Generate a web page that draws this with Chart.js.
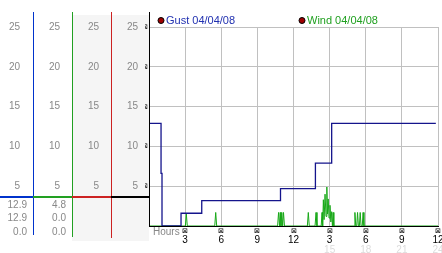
<!DOCTYPE html>
<html>
<head>
<meta charset="utf-8">
<script src="https://cdn.jsdelivr.net/npm/chart.js@4/dist/chart.umd.min.js"></script>
<style>
    body { margin: 0; background: #ffffff; }
    #wrap { width: 442px; height: 253px; }
</style>
</head>
<body>
<div id="wrap"><canvas id="idChartWind" width="442" height="253"></canvas></div>
<script>
// gust, stepped line (hours since start of the period, mph)
const gustHours = [0.05, 1.0, 1.08, 2.66, 4.38, 10.92, 13.82, 15.17, 23.82];
const gustValues = [12.9, 6.6, 0.0, 1.6, 3.2, 4.7, 7.9, 12.9, 12.9];

// wind, read spike by spike
const windHours = [0, 3.02, 3.1, 3.18, 5.46, 5.54, 5.62,
    10.68, 10.76, 10.84, 10.9, 10.96, 11.03, 11.1, 11.17, 11.25,
    13.15, 13.23, 13.31, 13.79, 13.87, 13.95,
    14.3, 14.37, 14.42, 14.48, 14.54, 14.62, 14.7, 14.77, 14.82, 14.88, 14.95, 15.03, 15.1, 15.17, 15.23, 15.29, 15.35,
    17.03, 17.1, 17.17, 17.25, 17.32, 17.39, 17.47, 17.54, 17.61, 17.71, 17.78, 17.85, 24];
const windValues = [0, 0, 1.5, 0, 0, 1.7, 0,
    0, 1.7, 0, 1.7, 0, 1.7, 0, 1.7, 0,
    0, 1.7, 0, 0, 1.7, 0,
    0, 1.7, 0, 3.3, 0.8, 4.0, 1.2, 4.9, 1.5, 3.4, 1.0, 2.6, 0.5, 1.8, 0, 1.7, 0,
    0, 1.7, 0, 0, 1.7, 0, 0, 1.7, 0, 0, 1.7, 0, 0];

// x tick labels, one per 3 hours
const hourLabels = ['', '3', '6', '9', '12', '3', '6', '9', '12'];
const hourLabelsPm = ['', '', '', '', '', '15', '18', '21', '24'];

// figures under the left panel: current, max, min
const gustSummary = ['12.9', '12.9', '0.0'];
const windSummary = ['4.8', '0.0', '0.0'];

const legendGust = 'Gust 04/04/08';
const legendWind = 'Wind 04/04/08';

Chart.defaults.font.family = "'Liberation Sans', Arial, sans-serif";
Chart.defaults.font.size = 10;

function toPoints(aX, aY) {
    var aData = [];
    for (var i = 0; i < aX.length; i++) {
        aData.push({ x: aX[i], y: aY[i] });
    }
    return aData;
}

function sideAxis(iWeight, iWidth, iPadding, sColor) {
    return {
        type: 'linear',
        position: 'left',
        weight: iWeight,
        min: 0,
        max: 25,
        afterFit: function (oScale) { oScale.width = iWidth; },
        grid: { display: false, drawTicks: false },
        border: { display: false },
        ticks: {
            stepSize: 5,
            padding: iPadding,
            color: sColor,
            callback: function (v) { return v === 0 ? '' : v; }
        }
    };
}

function hourAxis(iWeight, iHeight, iPadding, sColor, fLabel, oFont) {
    return {
        type: 'linear',
        position: 'bottom',
        weight: iWeight,
        min: 0,
        max: 24,
        afterFit: function (oScale) {
            oScale.height = iHeight;
            oScale.paddingLeft = 0;
            oScale.paddingRight = 0;
        },
        grid: { display: false, drawTicks: false },
        border: { display: false },
        ticks: {
            stepSize: 3,
            padding: iPadding,
            maxRotation: 0,
            autoSkip: false,
            color: sColor,
            font: oFont,
            callback: fLabel
        }
    };
}

const panelPlugin = {
    id: 'panel',
    beforeDraw: function (chart) {
        const ctx = chart.ctx;
        const s = chart.scales;
        ctx.save();
        ctx.fillStyle = '#f5f5f5';
        ctx.fillRect(s.yC3.left, 15, chart.chartArea.left - s.yC3.left, 226);
        ctx.restore();
    },
    afterDraw: function (chart) {
        const ctx = chart.ctx;
        const s = chart.scales;
        const a = chart.chartArea;
        const ySep = a.bottom - 30;
        ctx.save();

        // column lines of the left panel
        const aCols = [
            { l: s.yC1.left, r: s.yC1.right, c: '#0033cc', bottom: 235 },
            { l: s.yC2.left, r: s.yC2.right, c: '#22a022', bottom: 237 },
            { l: s.yC3.left, r: s.yC3.right, c: '#cc2222', bottom: 238 },
            { l: s.yC3.right, r: a.left, c: '#000000', bottom: a.bottom }
        ];
        for (var i = 0; i < aCols.length; i++) {
            var x = Math.round(aCols[i].r);
            ctx.fillStyle = aCols[i].c;
            ctx.fillRect(x, 12, 1, aCols[i].bottom - 12);
            ctx.fillRect(aCols[i].l, ySep, aCols[i].r - aCols[i].l + 1, 2);
        }

        // figures below the separator
        ctx.fillStyle = '#888888';
        ctx.font = "10px 'Liberation Sans', Arial, sans-serif";
        ctx.textAlign = 'right';
        ctx.textBaseline = 'middle';
        for (var j = 0; j < gustSummary.length; j++) {
            ctx.fillText(gustSummary[j], s.yC1.right - 6, 205 + j * 13.5);
            ctx.fillText(windSummary[j], s.yC2.right - 6, 205 + j * 13.5);
        }

        // hours caption
        ctx.textAlign = 'left';
        ctx.fillText('Hours', a.left + 4, 232);

        // legend
        const aLegend = [
            { x: a.left + 12, t: legendGust, c: '#2030b0' },
            { x: a.left + 153, t: legendWind, c: '#20a020' }
        ];
        ctx.font = "11px 'Liberation Sans', Arial, sans-serif";
        ctx.lineWidth = 1;
        for (var k = 0; k < aLegend.length; k++) {
            ctx.beginPath();
            ctx.arc(aLegend[k].x, 20.5, 3, 0, Math.PI * 2);
            ctx.fillStyle = '#a00000';
            ctx.fill();
            ctx.strokeStyle = '#000000';
            ctx.stroke();
            ctx.fillStyle = aLegend[k].c;
            ctx.fillText(aLegend[k].t, aLegend[k].x + 5, 21);
        }
        ctx.restore();
    }
};

function initChartWind() {

    const data = {
        datasets: [{
            label: legendGust,
            data: toPoints(gustHours, gustValues),
            borderColor: '#14148c',
            borderWidth: 1.3,
            stepped: 'before',
            pointRadius: 0,
            xAxisID: 'x',
            yAxisID: 'y'
        }, {
            label: legendWind,
            data: toPoints(windHours, windValues),
            borderColor: '#18a818',
            borderWidth: 1,
            pointRadius: 0,
            tension: 0,
            xAxisID: 'x',
            yAxisID: 'y'
        }]
    };

    const config = {
        type: 'line',
        data: data,
        plugins: [panelPlugin],
        options: {
            responsive: false,
            animation: false,
            events: [],
            layout: { padding: { top: 27, right: 4, left: 0, bottom: 0 } },
            plugins: {
                legend: { display: false },
                tooltip: { enabled: false }
            },
            scales: {
                x: {
                    type: 'linear',
                    position: 'bottom',
                    weight: 0,
                    min: 0,
                    max: 24,
                    afterFit: function (oScale) {
                        oScale.height = 8;
                        oScale.paddingLeft = 0;
                        oScale.paddingRight = 0;
                    },
                    grid: { color: '#c0c0c0', drawTicks: false },
                    border: { display: true, color: '#000000' },
                    ticks: {
                        stepSize: 3,
                        padding: 1,
                        maxRotation: 0,
                        autoSkip: false,
                        color: '#000000',
                        font: { size: 7 },
                        callback: function (v) { return v === 0 ? '' : '⊠'; }
                    }
                },
                x2: hourAxis(1, 10, 0, '#000000', function (v) { return hourLabels[v / 3]; }, { size: 10 }),
                x3: hourAxis(2, 9, 0, '#dcdcdc', function (v) { return hourLabelsPm[v / 3]; }, { size: 10 }),
                y: {
                    type: 'linear',
                    position: 'left',
                    weight: 0,
                    min: 0,
                    max: 25,
                    afterFit: function (oScale) { oScale.width = 4; },
                    grid: { color: '#c0c0c0', drawTicks: false },
                    border: { display: true, color: '#000000' },
                    ticks: {
                        stepSize: 5,
                        padding: 1,
                        color: '#000000',
                        font: { size: 7 },
                        callback: function (v) { return v === 0 ? '' : '⊠'; }
                    }
                },
                yC4: sideAxis(1, 34, 7, '#888888'),
                yC3: sideAxis(2, 39, 12, '#888888'),
                yC2: sideAxis(3, 39, 12, '#888888'),
                yC1: sideAxis(4, 33, 13, '#888888')
            }
        }
    };

    const oChartWind = new Chart(
        document.getElementById('idChartWind'),
        config
    );
}

initChartWind();
</script>
</body>
</html>
